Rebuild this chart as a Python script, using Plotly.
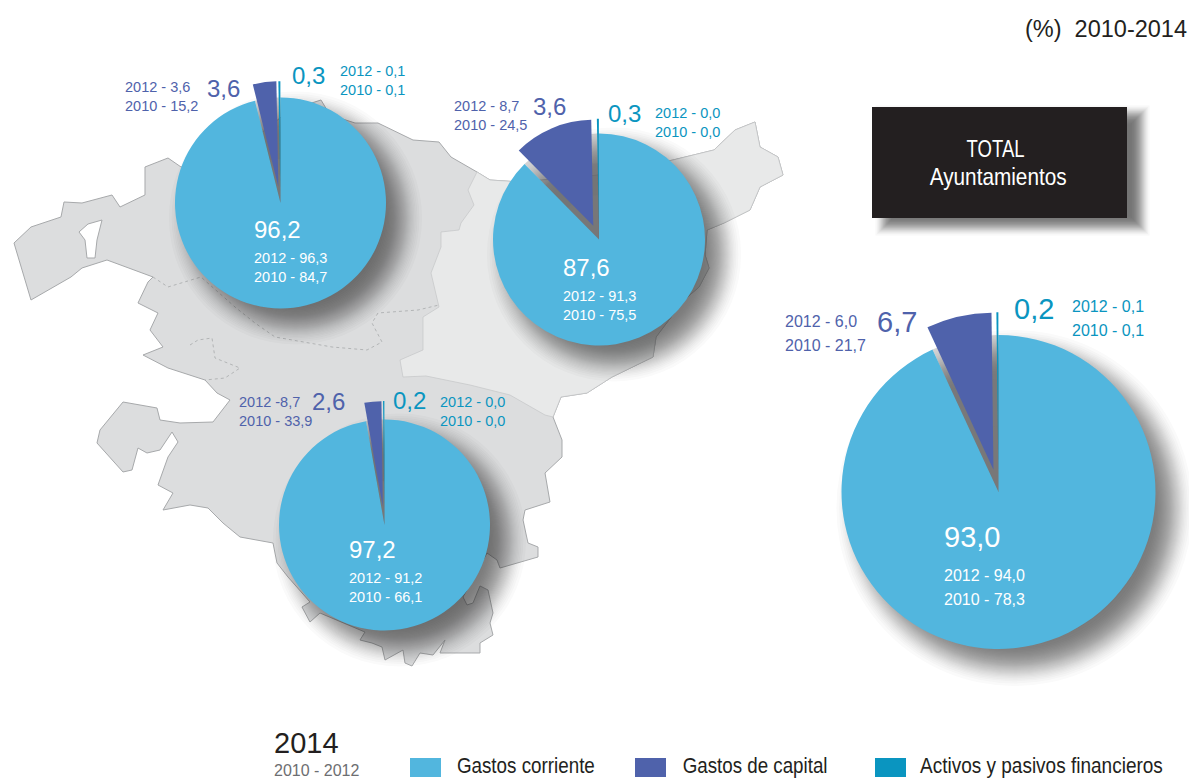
import json
from statistics import NormalDist
import plotly.graph_objects as go

W, H = 1189, 778

# ---------- data ----------
categories = ["Gastos corriente", "Gastos de capital", "Activos y pasivos financieros"]
bizkaia_2014 = [96.2, 3.6, 0.3]
gipuzkoa_2014 = [87.6, 12.1, 0.3]
alava_2014 = [97.2, 2.6, 0.2]
total_2014 = [93.0, 6.7, 0.2]

bizkaia_labels = ["96,2", "3,6", "0,3"]
gipuzkoa_labels = ["87,6", "3,6", "0,3"]
alava_labels = ["97,2", "2,6", "0,2"]
total_labels = ["93,0", "6,7", "0,2"]

bizkaia_hist = [["2012 - 96,3", "2010 - 84,7"], ["2012 - 3,6", "2010 - 15,2"], ["2012 - 0,1", "2010 - 0,1"]]
gipuzkoa_hist = [["2012 - 91,3", "2010 - 75,5"], ["2012 - 8,7", "2010 - 24,5"], ["2012 - 0,0", "2010 - 0,0"]]
alava_hist = [["2012 - 91,2", "2010 - 66,1"], ["2012 -8,7", "2010 - 33,9"], ["2012 - 0,0", "2010 - 0,0"]]
total_hist = [["2012 - 94,0", "2010 - 78,3"], ["2012 - 6,0", "2010 - 21,7"], ["2012 - 0,1", "2010 - 0,1"]]

# ---------- styles ----------
C_MAIN, C_CAP, C_FIN = "#52b6de", "#4f62ab", "#0a95c0"
COLORS = [C_MAIN, C_CAP, C_FIN]
FONT = "Liberation Sans"


def px(x):
    return x / W


def py(y):
    return 1 - y / H


def poly(points):
    return "M " + " L ".join(f"{px(x):.5f},{py(y):.5f}" for x, y in points) + " Z"


def line(points):
    return "M " + " L ".join(f"{px(x):.5f},{py(y):.5f}" for x, y in points)


shapes = []
annotations = []


def text(s, x, y, size, color, family=FONT, anchor="left"):
    annotations.append(dict(text=s, x=px(x), y=py(y), xref="paper", yref="paper", xanchor=anchor,
                            yanchor="middle", showarrow=False, borderpad=0, borderwidth=0,
                            font=dict(size=size, color=color, family=family)))


def add_shape(**kw):
    shapes.append(dict(xref="paper", yref="paper", layer="below", **kw))


# ---------- map ----------
outline = [(14, 243), (31, 227), (61, 217), (64, 202), (82, 203), (112, 195), (120, 207), (145, 195), (145, 167),
           (168, 158), (181, 167), (240, 150), (290, 110), (321, 100), (330, 115), (355, 123), (378, 123), (413, 140),
           (439, 142), (451, 157), (477, 172), (490, 180), (520, 182), (600, 175), (673, 160), (714, 150), (735, 130),
           (755, 122), (760, 147), (778, 157), (783, 175), (760, 187), (750, 210), (724, 223), (707, 230), (705, 255),
           (709, 268), (699, 287), (684, 300), (656, 337), (653, 357), (612, 377), (587, 393), (561, 397), (553, 417),
           (562, 440), (562, 457), (545, 473), (550, 502), (525, 510), (523, 520), (528, 543), (538, 547), (538, 557),
           (500, 568), (497, 560), (487, 553), (463, 597), (467, 605), (473, 603), (480, 586), (488, 590), (493, 613),
           (490, 623), (493, 635), (480, 643), (480, 653), (472, 653), (440, 653), (445, 640), (437, 650), (433, 655),
           (420, 653), (412, 666), (405, 663), (403, 650), (385, 660), (382, 647), (372, 643), (360, 640), (365, 632),
           (320, 613), (310, 622), (302, 607), (310, 602), (288, 577), (277, 563), (273, 543), (240, 537),
           (223, 523), (208, 508), (190, 505), (163, 510), (173, 493), (158, 485), (168, 457), (178, 442), (172, 432),
           (160, 450), (147, 453), (138, 448), (132, 470), (123, 472), (97, 443), (100, 430), (123, 402), (157, 408),
           (160, 420), (180, 423), (213, 422), (230, 400), (217, 393), (205, 380), (168, 368), (143, 355), (163, 347),
           (150, 330), (158, 313), (138, 303), (148, 282), (153, 277), (107, 260), (82, 268), (71, 277), (31, 300)]
light = [(477, 172), (468, 190), (474, 205), (461, 223), (459, 230), (441, 232), (441, 247), (431, 273), (439, 307),
         (423, 317), (423, 350), (400, 360), (403, 377), (426, 376), (470, 385), (510, 395), (545, 415), (553, 417),
         (561, 397), (587, 393), (612, 377), (653, 357), (656, 337), (684, 300), (699, 287), (709, 268), (705, 255),
         (707, 230), (724, 223), (750, 210), (760, 187), (783, 175), (778, 157), (760, 147), (755, 122), (735, 130),
         (714, 150), (673, 160), (600, 175), (520, 182), (490, 180)]
hole = [(102, 220), (88, 224), (79, 232), (85, 240), (87, 258), (95, 258), (97, 240)]
inner1 = [(153, 277), (168, 287), (201, 277), (235, 307), (255, 323), (275, 337), (332, 347), (367, 350), (382, 342),
          (372, 323), (378, 313), (418, 310), (439, 305)]
inner2 = [(190, 345), (198, 340), (212, 338), (215, 358), (240, 368), (225, 378), (205, 380)]

add_shape(type="path", path=poly(outline), fillcolor="#dcddde", line=dict(color="#a7a9ab", width=1))
add_shape(type="path", path=poly(light), fillcolor="#e8e9e9", line=dict(color="#c4c5c7", width=0.7))
add_shape(type="path", path=poly(hole), fillcolor="#ffffff", line=dict(color="#a7a9ab", width=1))
for ln in (inner1, inner2):
    add_shape(type="path", path=line(ln), line=dict(color="#a7a9ab", width=0.8, dash="dot"))

# ---------- soft shadows ----------
ND = NormalDist()


def spreads(steps):
    # truncated normal quantiles, so the soft edge fades without a hard outer ring
    lo, hi = 0.04, 0.96
    return [-ND.inv_cdf(lo + (hi - lo) * (i + 0.5) / steps) for i in range(steps)]


def circle_shadow(cx, cy, r, off, sigma):
    for q in spreads(36):
        rr = r + sigma * q
        add_shape(type="circle", x0=px(cx + off - rr), x1=px(cx + off + rr), y0=py(cy + off + rr),
                  y1=py(cy + off - rr), fillcolor="rgba(40,40,42,0.024)", line=dict(width=0))


def rect_shadow(x0, y0, x1, y1, ox, oy, sigma):
    for q in spreads(28):
        g = sigma * q
        add_shape(type="rect", x0=px(x0 + ox - g), x1=px(x1 + ox + g), y0=py(y1 + oy + g), y1=py(y0 + oy - g),
                  fillcolor="rgba(40,40,42,0.032)", line=dict(width=0))


# ---------- pies ----------
pies = [
    (bizkaia_2014, 280.5, 203, 105.5, 0.155, 15, 13),
    (gipuzkoa_2014, 599, 239.5, 106, 0.14, 15, 13),
    (alava_2014, 384.5, 525, 105.5, 0.175, 15, 13),
    (total_2014, 998.5, 492, 157, 0.145, 16, 13),
]
fig = go.Figure()
for vals, cx, cy, r, pull, off, sigma in pies:
    circle_shadow(cx, cy, r, off, sigma)
    half = r * (1 + pull)
    dom = dict(x=[px(cx - half), px(cx + half)], y=[py(cy + half), py(cy - half)])
    # grey shade visible in the gap left by the pulled slices
    for frac, alpha in ((1.0, 0.30), (0.72, 0.45), (0.42, 0.75)):
        rr = r * frac
        fig.add_trace(go.Pie(values=vals, labels=categories, sort=False, direction="clockwise", rotation=0,
                             domain=dict(x=[px(cx - rr), px(cx + rr)], y=[py(cy + rr), py(cy - rr)]),
                             marker=dict(colors=["rgba(0,0,0,0)", f"rgba(120,120,122,{alpha})",
                                                 f"rgba(120,120,122,{alpha})"], line=dict(width=0)),
                             textinfo="none", hoverinfo="skip", showlegend=False))
    fig.add_trace(go.Pie(values=vals, labels=categories, sort=False, direction="clockwise", rotation=0,
                         pull=[0, pull, pull], domain=dom,
                         marker=dict(colors=COLORS, line=dict(width=0)),
                         textinfo="none", showlegend=False))

# ---------- black box ----------
rect_shadow(872, 107, 1127, 218, 13, 8, 6)
add_shape(type="rect", x0=px(872), x1=px(1127), y0=py(218), y1=py(107), fillcolor="#231f20", line=dict(width=0))
text("TOTAL", 995, 148, 24, "#ffffff", FONT, "center")
text("Ayuntamientos", 997.5, 177, 24, "#ffffff", FONT, "center")

# ---------- labels ----------
text("(%)\u00a0\u00a02010-2014", 1187, 29, 23.5, "#231f20", FONT, "right")


def pie_labels(labels, hist, big, main_pos, cap_hist_pos, cap_pos, fin_pos, fin_hist_pos, small, gap, main_gap):
    text(labels[0], main_pos[0], main_pos[1], big, "#ffffff")
    text(hist[0][0], main_pos[0], main_pos[1] + main_gap, small, "#ffffff")
    text(hist[0][1], main_pos[0], main_pos[1] + main_gap + gap, small, "#ffffff")
    text(hist[1][0], cap_hist_pos[0], cap_hist_pos[1], small, C_CAP)
    text(hist[1][1], cap_hist_pos[0], cap_hist_pos[1] + gap, small, C_CAP)
    text(labels[1], cap_pos[0], cap_pos[1], big, C_CAP)
    text(labels[2], fin_pos[0], fin_pos[1], big, C_FIN)
    text(hist[2][0], fin_hist_pos[0], fin_hist_pos[1], small, C_FIN)
    text(hist[2][1], fin_hist_pos[0], fin_hist_pos[1] + gap, small, C_FIN)


pie_labels(bizkaia_labels, bizkaia_hist, 24, (254, 230), (125, 87), (207, 88), (292, 76), (340, 71), 14.5, 19, 28)
pie_labels(gipuzkoa_labels, gipuzkoa_hist, 24, (563, 267), (454, 106), (533, 106), (608, 113), (655, 113), 14.5, 18.5, 29)
pie_labels(alava_labels, alava_hist, 24, (349, 549), (239, 402), (312, 401), (393, 400), (440, 402), 14.5, 19, 29)
pie_labels(total_labels, total_hist, 29, (944, 537), (785, 321), (877, 322), (1014, 309), (1072, 306), 16, 24, 38)

# ---------- legend ----------
text("2014", 274, 743, 29, "#231f20")
text("2010 - 2012", 274, 770, 16, "#6d6e71")
swatch_x = [410, 635, 875]
legend_centres = [526, 754.5, 1041.5]
legend_widths = [138, 145, 243]
for name, color, x, c in zip(categories, COLORS, swatch_x, legend_centres):
    add_shape(type="rect", x0=px(x), x1=px(x + 31), y0=py(777), y1=py(758), fillcolor=color, line=dict(width=0))
    text(name, c, 765.5, 21.5, "#231f20", FONT, "center")

fig.update_layout(width=W, height=H, margin=dict(l=0, r=0, t=0, b=0), paper_bgcolor="#ffffff",
                  showlegend=False, shapes=shapes, annotations=annotations)

# condensed display of the legend and box headings, whose typeface is a narrow one
condense = dict(zip(categories, legend_widths))
condense.update({"TOTAL": 58, "Ayuntamientos": 137})
post = ("document.body.style.margin='0';document.body.style.overflow='hidden';"
        "var m=" + json.dumps(condense) + ";"
        "document.querySelectorAll('.annotation-text').forEach(function(t){var w=m[t.textContent];"
        "if(w){var c=parseFloat(t.getAttribute('x'))||0;var k=w/t.getComputedTextLength();"
        "t.setAttribute('transform','translate('+c+',0) scale('+k+',1) translate('+(-c)+',0)');}});")
fig.write_html("out.html", post_script=post, config=dict(displayModeBar=False))
